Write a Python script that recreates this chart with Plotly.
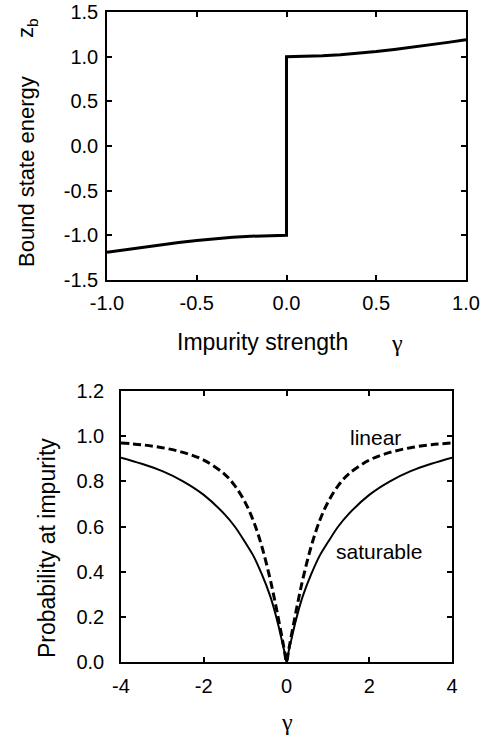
import plotly.graph_objects as go

# ---- data: top panel (bound state energy vs impurity strength) ----
gamma_top = [-1.0, -0.9, -0.8, -0.7, -0.6, -0.5, -0.4, -0.3, -0.2, -0.1, 0.0,
             0.0, 0.1, 0.2, 0.3, 0.4, 0.5, 0.6, 0.7, 0.8, 0.9, 1.0]
z_b = [-1.189, -1.160, -1.132, -1.105, -1.080, -1.057, -1.038, -1.022, -1.010, -1.003, -1.0,
       1.0, 1.003, 1.010, 1.022, 1.038, 1.057, 1.080, 1.105, 1.132, 1.160, 1.189]

# ---- data: bottom panel (probability at impurity vs gamma) ----
gamma_bot = [-4.0, -3.5, -3.0, -2.5, -2.0, -1.5, -1.25, -1.0, -0.8, -0.6, -0.4, -0.3, -0.2, -0.1, -0.05,
             0.0, 0.05, 0.1, 0.2, 0.3, 0.4, 0.6, 0.8, 1.0, 1.25, 1.5, 2.0, 2.5, 3.0, 3.5, 4.0]
prob_linear = [0.970, 0.962, 0.949, 0.928, 0.894, 0.832, 0.781, 0.707, 0.625, 0.514, 0.371, 0.287, 0.196, 0.100, 0.050,
               0.0, 0.050, 0.100, 0.196, 0.287, 0.371, 0.514, 0.625, 0.707, 0.781, 0.832, 0.894, 0.928, 0.949, 0.962, 0.970]
prob_saturable = [0.905, 0.878, 0.845, 0.800, 0.740, 0.655, 0.600, 0.530, 0.470, 0.390, 0.295, 0.235, 0.165, 0.085, 0.045,
                  0.0, 0.045, 0.085, 0.165, 0.235, 0.295, 0.390, 0.470, 0.530, 0.600, 0.655, 0.740, 0.800, 0.845, 0.878, 0.905]

# ---- tick labels ----
top_x_ticks = [-1.0, -0.5, 0.0, 0.5, 1.0]
top_x_labels = ["-1.0", "-0.5", "0.0", "0.5", "1.0"]
top_y_ticks = [-1.5, -1.0, -0.5, 0.0, 0.5, 1.0, 1.5]
top_y_labels = ["-1.5", "-1.0", "-0.5", "0.0", "0.5", "1.0", "1.5"]
bot_x_ticks = [-4, -2, 0, 2, 4]
bot_x_labels = ["-4", "-2", "0", "2", "4"]
bot_y_ticks = [0.0, 0.2, 0.4, 0.6, 0.8, 1.0, 1.2]
bot_y_labels = ["0.0", "0.2", "0.4", "0.6", "0.8", "1.0", "1.2"]

W, H = 490, 742
SANS = "Liberation Sans, Arial, sans-serif"
SERIF = "Liberation Serif, Times New Roman, serif"

fig = go.Figure()
fig.add_trace(go.Scatter(x=gamma_top, y=z_b, mode="lines",
                         line=dict(color="black", width=3),
                         xaxis="x", yaxis="y", showlegend=False, hoverinfo="skip"))
fig.add_trace(go.Scatter(x=gamma_bot, y=prob_linear, mode="lines",
                         line=dict(color="black", width=3, dash="8px,4px", shape="spline"),
                         xaxis="x2", yaxis="y2", showlegend=False))
fig.add_trace(go.Scatter(x=gamma_bot, y=prob_saturable, mode="lines",
                         line=dict(color="black", width=2, shape="spline"),
                         xaxis="x2", yaxis="y2", showlegend=False))

def ax(**kw):
    d = dict(showline=True, linecolor="black", linewidth=1.5, mirror="ticks",
             ticks="inside", ticklen=5, tickwidth=1.5, tickcolor="black",
             showgrid=False, zeroline=False, automargin=False,
             ticklabeloverflow="allow",
             tickfont=dict(family=SANS, size=20, color="black"))
    d.update(kw)
    return d

fig.update_layout(
    width=W, height=H,
    margin=dict(l=0, r=0, t=0, b=0, autoexpand=False),
    paper_bgcolor="white", plot_bgcolor="white",
    xaxis=ax(domain=[107 / W, 466 / W], range=[-1, 1], anchor="y",
             tickvals=top_x_ticks, ticktext=top_x_labels, ticklabelstandoff=4),
    yaxis=ax(domain=[1 - 280 / H, 1 - 12 / H], range=[-1.5, 1.5], anchor="x",
             tickvals=top_y_ticks, ticktext=top_y_labels, ticklabelstandoff=3),
    xaxis2=ax(domain=[121 / W, 452 / W], range=[-4, 4], anchor="y2",
              tickvals=bot_x_ticks, ticktext=bot_x_labels, ticklabelstandoff=5),
    yaxis2=ax(domain=[1 - 662 / H, 1 - 391 / H], range=[0, 1.2], anchor="x2",
              tickvals=bot_y_ticks, ticktext=bot_y_labels, ticklabelstandoff=11),
)

def ann(text, px, py, size, family=SANS, angle=0):
    fig.add_annotation(text=text, x=px / W, y=1 - py / H, xref="paper", yref="paper",
                       xanchor="center", yanchor="middle", showarrow=False,
                       textangle=angle, font=dict(family=family, size=size, color="black"))

ann("Bound state energy", 26, 172, 22, angle=-90)
ann("z<sub>b</sub>", 27, 28, 22, angle=-90)
ann("Impurity strength", 262, 342, 23)
ann("γ", 397, 343, 24, family=SERIF)
ann("Probability at impurity", 47, 548, 23, angle=-90)
ann("γ", 287, 722, 24, family=SERIF)
ann("linear", 375, 437, 21)
ann("saturable", 379, 551, 21)

fig.write_html("out.html", config={"displayModeBar": False},
               post_script="document.body.style.margin='0';document.body.style.overflow='hidden';")
